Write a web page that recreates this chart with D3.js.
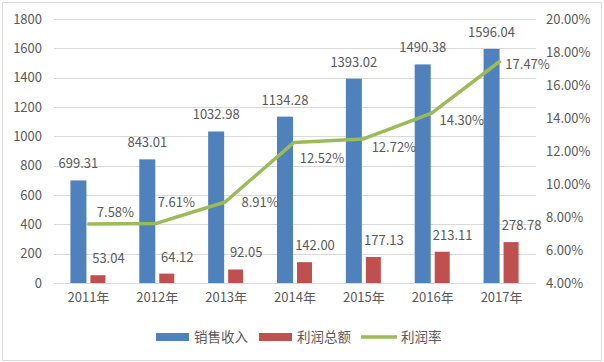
<!DOCTYPE html>
<html>
<head>
<meta charset="utf-8">
<script src="https://cdn.jsdelivr.net/npm/d3@7"></script>
<style>
  body { margin: 0; background: #fff; }
  text { font-family: "Noto Sans CJK SC", "Noto Sans", sans-serif; fill: #595959; }
</style>
</head>
<body>
<div id="chart"></div>
<script>
// Datos
const years = ["2011年", "2012年", "2013年", "2014年", "2015年", "2016年", "2017年"]
const revenue = [699.31, 843.01, 1032.98, 1134.28, 1393.02, 1490.38, 1596.04]
const profit = [53.04, 64.12, 92.05, 142.00, 177.13, 213.11, 278.78]
const rate = [7.58, 7.61, 8.91, 12.52, 12.72, 14.30, 17.47]
const leftTicks = [0, 200, 400, 600, 800, 1000, 1200, 1400, 1600, 1800]
const rightTicks = [4, 6, 8, 10, 12, 14, 16, 18, 20]
const seriesNames = ["销售收入", "利润总额", "利润率"]

// desplazamiento de las etiquetas del %:
const rateLabelOffset = [[27, -11], [19, -21], [34, 0], [27, 16], [30, 8], [29, 7], [26, 4]]

const width = 604
const height = 362
const margins = { top: 19, bottom: 79, left: 54, right: 68 }
const colors = ["#4f81bd", "#c0504d", "#9bbb59"]

const svg = d3.select("#chart").append("svg").attr("width", width).attr("height", height)

// borde
svg.append("rect").attr("x", 2.5).attr("y", 2.5).attr("width", width - 5).attr("height", height - 4)
    .attr("fill", "none").attr("stroke", "#d9d9d9")

const innerW = width - margins.left - margins.right
const innerH = height - margins.top - margins.bottom
const g = svg.append("g").attr("transform", `translate(${margins.left},${margins.top})`)

const x = d3.scaleBand().domain(years).range([0, innerW])
const y = d3.scaleLinear().domain([0, 1800]).range([innerH, 0])
const y2 = d3.scaleLinear().domain([4, 20]).range([innerH, 0])

// rejilla
g.append("g").selectAll("line").data(leftTicks).join("line")
    .attr("x1", 0).attr("x2", innerW)
    .attr("y1", d => Math.round(y(d)) + 0.5).attr("y2", d => Math.round(y(d)) + 0.5)
    .attr("stroke", "#d9d9d9")

// ejes
const yAxis = d3.axisLeft(y).tickValues(leftTicks).tickSize(0).tickPadding(12).tickFormat(d3.format("d"))
const y2Axis = d3.axisRight(y2).tickValues(rightTicks).tickSize(0).tickPadding(10)
    .tickFormat(d => d.toFixed(2) + "%")
const xAxis = d3.axisBottom(x).tickSize(0).tickPadding(10)

g.append("g").call(yAxis).call(a => a.select(".domain").remove())
    .selectAll("text").style("font-size", "13px").style("fill", "#595959")
g.append("g").attr("transform", `translate(${innerW},0)`).call(y2Axis).call(a => a.select(".domain").remove())
    .selectAll("text").style("font-size", "13px").style("fill", "#595959")
g.append("g").attr("transform", `translate(0,${innerH})`).call(xAxis).call(a => a.select(".domain").remove())
    .selectAll("text").style("font-size", "13px").style("fill", "#595959")

const barW = 16
const gap = 4
const cx = d => x(d) + x.bandwidth() / 2

// barras
g.selectAll(".rev").data(years).join("rect").attr("class", "rev")
    .attr("x", d => cx(d) - gap / 2 - barW)
    .attr("y", (d, i) => y(revenue[i]))
    .attr("width", barW)
    .attr("height", (d, i) => innerH - y(revenue[i]))
    .attr("fill", colors[0])

g.selectAll(".pro").data(years).join("rect").attr("class", "pro")
    .attr("x", d => cx(d) + gap / 2)
    .attr("y", (d, i) => y(profit[i]))
    .attr("width", barW - 1)
    .attr("height", (d, i) => innerH - y(profit[i]))
    .attr("fill", colors[1])

// linea
g.append("path").datum(rate)
    .attr("fill", "none").attr("stroke", colors[2]).attr("stroke-width", 3.5)
    .attr("stroke-linejoin", "round")
    .attr("d", d3.line().x((d, i) => cx(years[i]) - 1).y(d => y2(d)))

// etiquetas
g.selectAll(".revLabel").data(years).join("text")
    .attr("x", d => cx(d) - gap / 2 - barW / 2)
    .attr("y", (d, i) => y(revenue[i]) - 12)
    .attr("text-anchor", "middle").style("font-size", "13px")
    .text((d, i) => revenue[i].toFixed(2))

g.selectAll(".proLabel").data(years).join("text")
    .attr("x", d => cx(d) + gap / 2 + barW / 2 + 10)
    .attr("y", (d, i) => y(profit[i]) - 12)
    .attr("text-anchor", "middle").style("font-size", "13px")
    .text((d, i) => profit[i].toFixed(2))

g.selectAll(".rateLabel").data(years).join("text")
    .attr("x", (d, i) => cx(d) + rateLabelOffset[i][0])
    .attr("y", (d, i) => y2(rate[i]) + rateLabelOffset[i][1])
    .attr("dy", "0.35em")
    .attr("text-anchor", "middle").style("font-size", "13px")
    .text((d, i) => rate[i].toFixed(2) + "%")

// leyenda
const legend = svg.append("g").attr("transform", "translate(156,337)")
const legendX = [0, 103, 205]
seriesNames.forEach((name, i) => {
    const item = legend.append("g").attr("transform", `translate(${legendX[i]},0)`)
    if (i < 2) {
        item.append("rect").attr("x", 0).attr("y", -4).attr("width", 33).attr("height", 8).attr("fill", colors[i])
    } else {
        item.append("line").attr("x1", 0).attr("x2", 36).attr("y1", 0).attr("y2", 0)
            .attr("stroke", colors[i]).attr("stroke-width", 3.5)
    }
    item.append("text").attr("x", i < 2 ? 38 : 40).attr("dy", "0.35em")
        .style("font-size", "13.5px").text(name)
})
</script>
</body>
</html>
